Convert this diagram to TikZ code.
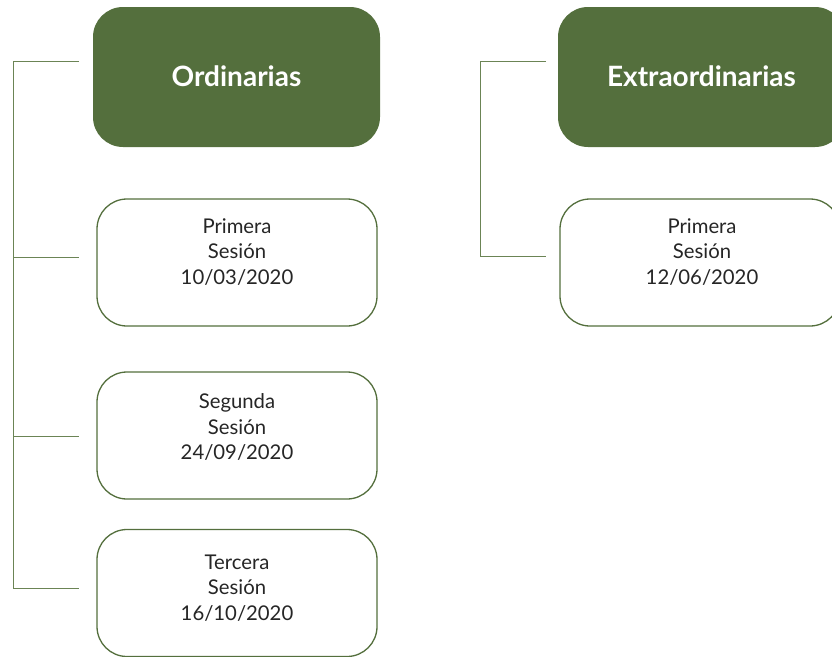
\documentclass[tikz,border=0pt]{standalone}
\usepackage{fontspec}
\setmainfont{Lato}
\definecolor{dgreen}{HTML}{546F3D}
\definecolor{lgreen}{HTML}{6B8455}
\definecolor{txt}{HTML}{262626}
\begin{document}
\begin{tikzpicture}[x=1pt,y=-1pt,
  headbox/.style={draw=none,fill=dgreen,rounded corners=30pt,minimum width=287pt,minimum height=140pt,inner sep=0pt},
  headtxt/.style={text=white,font=\fontsize{28}{32}\selectfont\bfseries},
  sesbox/.style={draw=dgreen,line width=1.3pt,fill=white,rounded corners=30pt,minimum width=280pt,minimum height=127pt,inner sep=0pt},
  sestxt/.style={text=txt,align=center,font=\fontsize{20.3}{25.5}\selectfont},
  conn/.style={draw=lgreen,line width=1pt}]
\useasboundingbox (0,0) rectangle (832,656);
% headers
\node[headbox] (ord) at (236.5,77) {};
\node[headtxt] (ordt) at (236.5,76) {Ordinarias};
\node[headbox] (ext) at (701.5,77) {};
\node[headtxt] (extt) at (701.5,76) {Extraordinarias};
% sessions
\node[sesbox] (s1) at (237,262.5) {};
\node[sestxt] (s1t) at (237,252) {Primera\\Sesión\\10/03/2020};
\node[sesbox] (s2) at (237,435.5) {};
\node[sestxt] (s2t) at (237,427) {Segunda\\Sesión\\24/09/2020};
\node[sesbox] (s3) at (237,593) {};
\node[sestxt] (s3t) at (237,588) {Tercera\\Sesión\\16/10/2020};
\node[sesbox] (e1) at (700,262.5) {};
\node[sestxt] (e1t) at (702,252) {Primera\\Sesión\\12/06/2020};
% connector ends
\coordinate (a0) at (13,61);
\coordinate (a1) at (13,257);
\coordinate (a2) at (13,436);
\coordinate (a3) at (13,588);
\coordinate (b0) at (79,61);
\coordinate (b1) at (79,257);
\coordinate (b2) at (79,436);
\coordinate (b3) at (79,588);
\coordinate (c0) at (480,61);
\coordinate (c1) at (480,256);
\coordinate (d0) at (546,61);
\coordinate (d1) at (546,256);
\draw[conn] (b0) -- (a0) -- (a3) -- (b3);
\draw[conn] (a1) -- (b1);
\draw[conn] (a2) -- (b2);
\draw[conn] (d0) -- (c0) -- (c1) -- (d1);
\end{tikzpicture}
\end{document}
